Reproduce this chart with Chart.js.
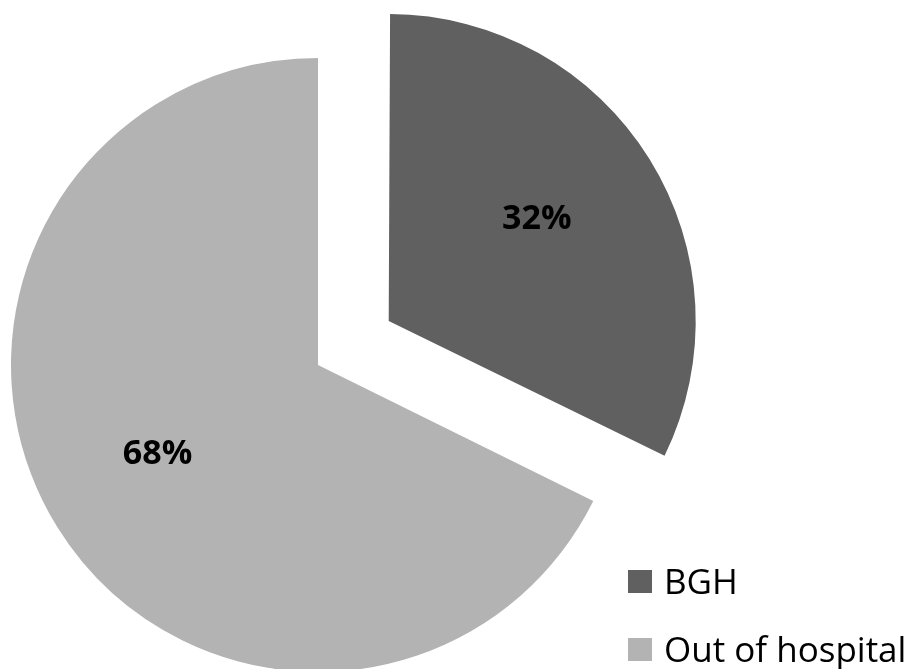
<!DOCTYPE html>
<html>
<head>
<meta charset="utf-8">
<script src="https://cdn.jsdelivr.net/npm/chart.js@4"></script>
<style>
  html, body { margin: 0; padding: 0; background: #ffffff; }
  #wrap { position: relative; width: 912px; height: 669px; overflow: hidden; }
  #legend { position: absolute; left: 628px; top: 557px; font-family: "Open Sans", sans-serif; font-size: 35px; line-height: 48px; color: #000; }
  .item { display: flex; align-items: center; height: 48px; margin-bottom: 20px; white-space: nowrap; }
  .box { width: 24px; height: 23px; margin-right: 12px; }
</style>
</head>
<body>
<div id="wrap">
  <canvas id="chart" width="912" height="669"></canvas>
  <div id="legend"></div>
</div>
<script>
// Data
const labels = ['BGH', 'Out of hospital'];
const values = [32.3, 67.7];
const colors = ['#606060', '#b3b3b3'];
const explode = [333, 0];

// keep the exploded slice the same radius as the others
const keepRadius = {
  id: 'keepRadius',
  afterDatasetsUpdate(chart) {
    chart.getDatasetMeta(0).data.forEach((arc, i) => {
      const off = explode[i] / 4;
      const fix = 1 - Math.sin(Math.min(Math.PI, arc.circumference));
      arc.outerRadius -= off * fix;
    });
  }
};

// percentage labels inside the slices
const sliceLabels = {
  id: 'sliceLabels',
  afterDatasetsDraw(chart) {
    const ctx = chart.ctx;
    const total = values.reduce((a, b) => a + b, 0);
    ctx.save();
    ctx.font = 'bold 34px "Open Sans", sans-serif';
    ctx.fillStyle = '#000';
    ctx.textAlign = 'center';
    ctx.textBaseline = 'alphabetic';
    chart.getDatasetMeta(0).data.forEach((arc, i) => {
      const mid = (arc.startAngle + arc.endAngle) / 2;
      const d = arc.outerRadius * 0.6 + explode[i] / 4;
      const x = arc.x + Math.cos(mid) * d - 4;
      const y = arc.y + Math.sin(mid) * d;
      ctx.fillText(Math.round(values[i] / total * 100) + '%', x, y + 2);
    });
    ctx.restore();
  }
};

new Chart(document.getElementById('chart'), {
  type: 'pie',
  data: {
    labels: labels,
    datasets: [{
      data: values,
      backgroundColor: colors,
      borderWidth: 0,
      offset: explode,
      clip: false
    }]
  },
  options: {
    responsive: false,
    animation: false,
    radius: 307,
    layout: { padding: { left: 0, right: 276, top: 61, bottom: 0 } },
    plugins: {
      legend: { display: false },
      tooltip: { enabled: false }
    }
  },
  plugins: [keepRadius, sliceLabels]
});

// legend
const legend = document.getElementById('legend');
labels.forEach((name, i) => {
  legend.innerHTML += `
    <div class="item">
      <div class="box" style="background:${colors[i]}"></div>
      <span>${name}</span>
    </div>`;
});
</script>
</body>
</html>
